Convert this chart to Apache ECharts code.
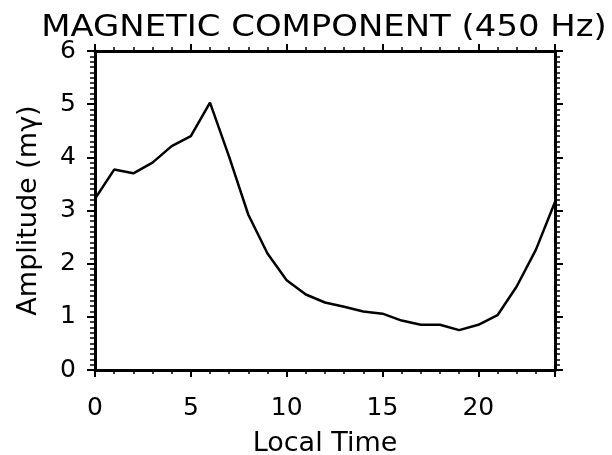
<!DOCTYPE html>
<html>
<head>
<meta charset="utf-8">
<script src="https://cdn.jsdelivr.net/npm/echarts@6/dist/echarts.min.js"></script>
<style>html,body{margin:0;padding:0;background:#fff}#c{width:612px;height:455px}</style>
</head>
<body>
<div id="c"></div>
<script>
const hours = [0,1,2,3,4,5,6,7,8,9,10,11,12,13,14,15,16,17,18,19,20,21,22,23,24];
const amplitude = [3.22,3.77,3.70,3.90,4.21,4.40,5.03,4.01,2.92,2.19,1.69,1.42,1.27,1.19,1.10,1.06,0.93,0.85,0.85,0.75,0.85,1.03,1.57,2.26,3.16];
const xTicks = [0,5,10,15,20];
const yTicks = [0,1,2,3,4,5,6];
const titleText = 'MAGNETIC COMPONENT (450 Hz)';
const xName = 'Local Time';
const yName = 'Amplitude (mγ)';

const font = 'DejaVu Sans';
const chart = echarts.init(document.getElementById('c'), null, {renderer:'canvas'});
const lineStyle = {color:'#000', width:3};
const xCommon = {
  type:'value', min:0, max:24, interval:5,
  axisLine:{show:true, onZero:false, lineStyle:lineStyle},
  axisTick:{show:true, inside:false, length:7, lineStyle:{color:'#000', width:2}},
  minorTick:{show:true, splitNumber:5, length:4, lineStyle:{color:'#000', width:1.5}},
  splitLine:{show:false}
};
const yCommon = {
  type:'value', min:0, max:6, interval:1,
  axisLine:{show:true, onZero:false, lineStyle:lineStyle},
  axisTick:{show:true, inside:false, length:8, lineStyle:{color:'#000', width:2}},
  minorTick:{show:true, splitNumber:10, length:5, lineStyle:{color:'#000', width:1.5}},
  splitLine:{show:false}
};
chart.setOption({
  backgroundColor:'#fff',
  animation:false,
  graphic:[{
    type:'text', x:324, y:28, scaleX:1.13, scaleY:1, originX:0, originY:0,
    style:{text:titleText, fontFamily:font, fontSize:30, fill:'#000',
      textAlign:'center', textVerticalAlign:'middle'}
  }],
  grid:{left:95, right:57, top:51, bottom:85, containLabel:false, outerBoundsMode:'none'},
  xAxis:[
    Object.assign({}, xCommon, {position:'bottom',
      name:xName, nameLocation:'middle', nameGap:60,
      nameTextStyle:{fontFamily:font, fontSize:27, color:'#000'},
      axisLabel:{show:true, margin:26, fontFamily:font, fontSize:25, color:'#000',
        formatter:v => xTicks.includes(v) ? String(v) : ''}}),
    Object.assign({}, xCommon, {position:'top', axisLabel:{show:false}})
  ],
  yAxis:[
    Object.assign({}, yCommon, {position:'left',
      name:yName, nameLocation:'middle', nameGap:53, nameRotate:90,
      nameTextStyle:{fontFamily:font, fontSize:27, color:'#000'},
      axisLabel:{show:true, margin:19, fontFamily:font, fontSize:25, color:'#000',
        formatter:v => yTicks.includes(v) ? String(v) : ''}}),
    Object.assign({}, yCommon, {position:'right', axisLabel:{show:false}})
  ],
  series:[{
    type:'line', xAxisIndex:0, yAxisIndex:0,
    data:hours.map((h,i)=>[h, amplitude[i]]),
    showSymbol:false, symbol:'none',
    lineStyle:{color:'#000', width:2.5}
  }]
});
</script>
</body>
</html>
